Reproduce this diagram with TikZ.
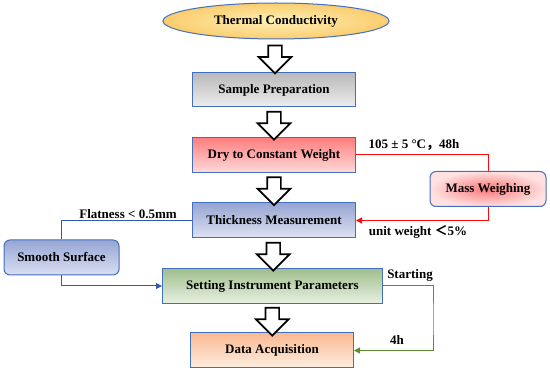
\documentclass[tikz,border=0pt]{standalone}
\usepackage{fontspec}
\setmainfont{Liberation Serif}
\newfontfamily\cjk{Noto Sans CJK SC}
\usetikzlibrary{shapes, shapes.arrows, arrows.meta, positioning, calc, shadings}
\definecolor{edgeblue}{RGB}{68, 110, 190}
\definecolor{linered}{RGB}{250, 10, 10}
\definecolor{linegreen}{RGB}{90, 140, 50}
\definecolor{lineblue}{RGB}{50, 90, 170}

\begin{document}
\begin{tikzpicture}[x=1pt, y=-1pt,
  stepbox/.style={draw=edgeblue, line width=1pt, minimum height=35pt, minimum width=163pt, inner sep=2pt, font=\bfseries\fontsize{13}{15}\selectfont},
  sidebox/.style={stepbox, rounded corners=6pt, minimum width=116pt},
  bigarrow/.style={single arrow, draw=black, line width=1.7pt, fill=white, shape border rotate=270, minimum height=28pt, inner sep=6pt, single arrow head extend=9.5pt, outer sep=0pt},
  lbl/.style={font=\bfseries\fontsize{13}{15}\selectfont, inner sep=1pt}
]
  \useasboundingbox (0,0) rectangle (550,374);

  \node[ellipse, draw=edgeblue, line width=1pt, inner color={rgb,255:red,255;green,240;blue,185}, outer color={rgb,255:red,250;green,205;blue,110}, minimum width=226pt, minimum height=36pt, font=\bfseries\fontsize{13}{15}\selectfont] (thermal) at (276, 21) {Thermal Conductivity};

  \node[stepbox, top color={rgb,255:red,185;green,185;blue,185}, bottom color={rgb,255:red,238;green,238;blue,238}, minimum height=34pt] (sample) at (274, 90) {Sample Preparation};
  \node[stepbox, top color={rgb,255:red,255;green,125;blue,125}, bottom color={rgb,255:red,255;green,218;blue,218}] (dry) at (274, 155) {Dry to Constant Weight};
  \node[stepbox, top color={rgb,255:red,150;green,165;blue,210}, bottom color={rgb,255:red,222;green,226;blue,242}] (thick) at (274, 220.5) {Thickness Measurement};
  \node[stepbox, minimum width=220pt, top color={rgb,255:red,160;green,190;blue,140}, bottom color={rgb,255:red,232;green,241;blue,226}] (setting) at (272.5, 286) {Setting Instrument Parameters};
  \node[stepbox, top color={rgb,255:red,250;green,185;blue,145}, bottom color={rgb,255:red,253;green,238;blue,225}] (data) at (272, 350.5) {Data Acquisition};

  \node[sidebox, inner color={rgb,255:red,250;green,120;blue,120}, outer color={rgb,255:red,255;green,225;blue,225}] (mass) at (488, 189) {Mass Weighing};
  \node[sidebox, minimum width=115pt, top color={rgb,255:red,150;green,165;blue,212}, bottom color={rgb,255:red,218;green,223;blue,242}] (smooth) at (61.5, 257.5) {Smooth Surface};

  % hollow arrows down the main column
  \path (thermal.south) -- node[bigarrow]{} (sample.north);
  \path (sample.south) -- node[bigarrow]{} (dry.north);
  \path (dry.south) -- node[bigarrow]{} (thick.north);
  \path (thick.south) -- node[bigarrow]{} (setting.north);
  \path (setting.south) -- node[bigarrow]{} (data.north);

  % side loops
  \draw[linered, line width=1pt] (dry.east) -| (mass.north);
  \draw[linered, line width=1pt, -{Triangle[length=6pt, width=6pt]}] (mass.south) |- (thick.east);
  \draw[lineblue, line width=1pt] (smooth.north) |- (thick.west);
  \draw[lineblue, line width=1pt, -{Triangle[length=6pt, width=6pt]}] (smooth.south) |- (setting.west);
  \coordinate (gturn) at (433, 320);
  \draw[linegreen, line width=1pt, -{Triangle[length=6pt, width=6pt]}] (setting.east) -| (gturn) |- (data.east);

  \node[lbl] (drylbl) at (414, 145) {105 ± 5 °C{\cjk ，}48h};
  \node[lbl] (weightlbl) at (418, 232) {unit weight {\cjk ＜}5\%};
  \node[lbl] (flatlbl) at (128, 214) {Flatness < 0.5mm};
  \node[lbl] (startlbl) at (410, 275) {Starting};
  \node[lbl] (timelbl) at (397, 340) {4h};
\end{tikzpicture}
\end{document}
